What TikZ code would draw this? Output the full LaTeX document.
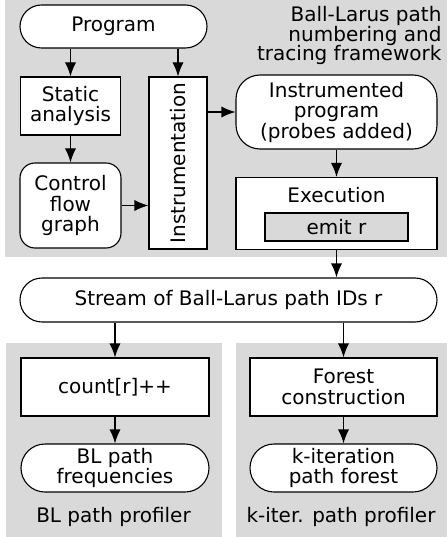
\documentclass[tikz,border=0pt]{standalone}
\usepackage{fontspec}
\setmainfont{DejaVu Sans}
\usetikzlibrary{arrows.meta,shapes.misc}

\definecolor{bggray}{RGB}{217,217,217}

\tikzset{
  box/.style={draw,fill=white,rectangle,align=center,inner sep=0pt},
  roundbox/.style={box,rounded corners=#1},
  pill/.style={draw,fill=white,rounded rectangle,align=center,inner sep=0pt},
  emitbox/.style={draw,fill=bggray,rectangle,inner sep=0pt},
}

\begin{document}
\begin{tikzpicture}[x=1pt,y=-1pt,line width=1.1pt,
    font=\fontsize{20}{20.5}\selectfont,
    >={Latex[length=14pt,width=11pt]}]

        \useasboundingbox (0,0) rectangle (447,537);

        % grey panels
        \fill[bggray] (5,0)   rectangle (447,257);
        \fill[bggray] (6,343) rectangle (222,537);
        \fill[bggray] (236,343) rectangle (447,537);

        \node[anchor=north east,align=right,inner sep=0pt,
              font=\fontsize{20}{19.5}\selectfont] (title) at (442,6)
              {Ball-Larus path\\numbering and\\tracing framework};

        \begin{scope}[every node/.style={box}]
          \node[pill,minimum width=187pt,minimum height=43pt] (prog) at (113.5,26.5) {Program};
          \node[minimum width=100pt,minimum height=58pt] (static) at (70.5,106) {Static\\analysis};
          \node[roundbox=15pt,minimum width=101pt,minimum height=85pt] (cfg) at (70.5,205.5) {Control\\flow\\graph};
          \node[minimum width=58pt,minimum height=172pt] (instr) at (178,163) {\rotatebox{90}{Instrumentation}};
          \node[roundbox=24pt,minimum width=201pt,minimum height=74pt] (iprog) at (336.5,112) {Instrumented\\program\\(probes added)};
          \node[minimum width=201pt,minimum height=72pt] (exec) at (336.5,213.5) {};
          \node[pill,minimum width=417pt,minimum height=44pt] (stream) at (228.5,300) {Stream of Ball-Larus path IDs r};
          \node[minimum width=188pt,minimum height=58pt] (count) at (115,387) {count[r]++};
          \node[minimum width=187pt,minimum height=58pt] (forest) at (343.5,387) {Forest\\construction};
          \node[pill,minimum width=188pt,minimum height=48pt] (blfreq) at (115,468) {BL path\\frequencies};
          \node[pill,minimum width=187pt,minimum height=48pt] (kforest) at (343.5,468) {k-iteration\\path forest};
        \end{scope}

        \node (exectext) at (336.5,195) {Execution};
        \node[emitbox,minimum width=143pt,minimum height=28pt] (emit) at (336.5,227) {emit r};

        \node (blprof) at (113.5,517) {BL path profiler};
        \node (kprof)  at (341,517)   {k-iter. path profiler};

        \begin{scope}[every edge/.style={draw,->}]
          \path (prog.south -| static) edge (static);
          \path (prog.south -| instr)  edge (instr);
          \path (static) edge (cfg);
          \path (cfg)    edge (cfg -| instr.west);
          \path (instr.east |- iprog) edge (iprog);
          \path (iprog)  edge (exec);
          \path (exec.south) edge (exec.south |- stream.north);
          \path (stream.south -| count)  edge (count);
          \path (stream.south -| forest) edge (forest);
          \path (count)  edge (blfreq);
          \path (forest) edge (kforest);
        \end{scope}

\end{tikzpicture}
\end{document}
